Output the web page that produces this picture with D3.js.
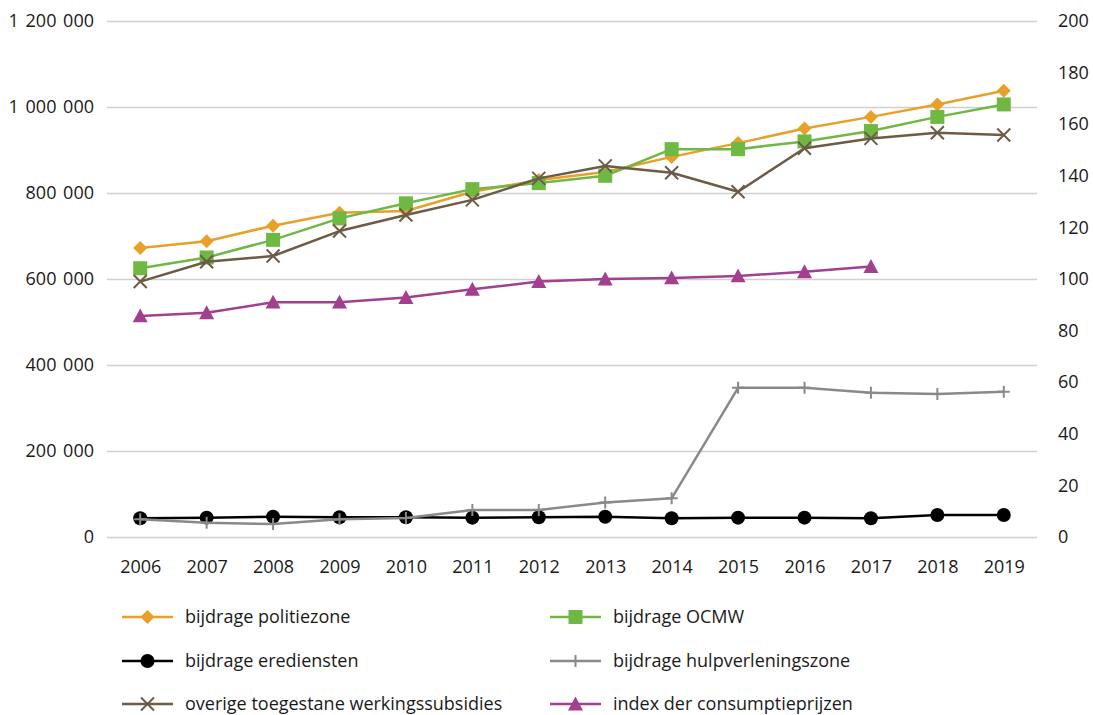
<!DOCTYPE html>
<html>
<head>
<meta charset="utf-8">
<script src="https://cdn.jsdelivr.net/npm/d3@7"></script>
<style>
  html, body { margin: 0; padding: 0; background: #fff; }
  svg { display: block; font-family: "Open Sans", "Noto Sans", sans-serif; }
</style>
</head>
<body>
<svg id="chart" width="1093" height="715"></svg>
<script>
// ---- data ----
const years = [2006, 2007, 2008, 2009, 2010, 2011, 2012, 2013, 2014, 2015, 2016, 2017, 2018, 2019];
const politiezone = [672000, 688000, 724000, 754000, 758000, 803000, 830000, 849000, 884000, 916000, 950000, 977000, 1006000, 1038000];
const ocmw = [625000, 650000, 691000, 741000, 776000, 809000, 823000, 840000, 902000, 902000, 920000, 944000, 977000, 1006000];
const erediensten = [43500, 45000, 47000, 46000, 46000, 45000, 46000, 47000, 43500, 45000, 45000, 43500, 51000, 51000];
const hulpverlening = [41000, 33000, 30000, 41000, 44000, 63000, 63000, 80500, 90000, 347000, 347000, 335500, 332500, 338000];
const overige = [594000, 640000, 653500, 711500, 749000, 784000, 834000, 863000, 847000, 803000, 904000, 927000, 940000, 935000];
const indexCPI = [85.7, 86.9, 91.0, 91.0, 92.8, 96.0, 99.0, 100.0, 100.4, 101.2, 102.8, 104.8, null, null];
const leftTicks = [0, 200000, 400000, 600000, 800000, 1000000, 1200000];
const rightTicks = [0, 20, 40, 60, 80, 100, 120, 140, 160, 180, 200];

const seriesNames = ["bijdrage politiezone", "bijdrage OCMW", "bijdrage erediensten", "bijdrage hulpverleningszone", "overige toegestane werkingssubsidies", "index der consumptieprijzen"];

// ---- layout / styles ----
const series = [
  {name: seriesNames[0], values: politiezone, axis: "L", color: "#E9A02B", marker: "diamond"},
  {name: seriesNames[1], values: ocmw, axis: "L", color: "#6FB843", marker: "square"},
  {name: seriesNames[2], values: erediensten, axis: "L", color: "#000000", marker: "circle"},
  {name: seriesNames[3], values: hulpverlening, axis: "L", color: "#898989", marker: "plus"},
  {name: seriesNames[4], values: overige, axis: "L", color: "#6C5B47", marker: "cross"},
  {name: seriesNames[5], values: indexCPI, axis: "R", color: "#A33F8F", marker: "triangle"}
];

const svg = d3.select("#chart");
const pL = 107, pR = 1037, pT = 21, pB = 537;

const x = d3.scalePoint().domain(years).range([pL, pR]).padding(0.5);
const yL = d3.scaleLinear().domain([0, 1200000]).range([pB, pT]);
const yR = d3.scaleLinear().domain([0, 200]).range([pB, pT]);

const fmt = v => d3.format(",")(v).replace(/,/g, " ");
const fontSize = 18;
const textColor = "#1a1a1a";

// gridlines
const grid = svg.append("g").attr("transform", `translate(${pL},0)`)
  .call(d3.axisLeft(yL).tickValues(leftTicks).tickSize(-(pR - pL)).tickFormat(""));
grid.select(".domain").remove();
grid.selectAll("line").attr("stroke", "#d0d0d0").attr("stroke-width", 1.3);

// left axis
const gL = svg.append("g").attr("transform", `translate(${pL},0)`)
  .call(d3.axisLeft(yL).tickValues(leftTicks).tickSize(0).tickPadding(13).tickFormat(fmt));
gL.select(".domain").remove();
gL.attr("font-family", null).attr("font-size", fontSize);
gL.selectAll("text").attr("fill", textColor).attr("word-spacing", 2);

// right axis
const gR = svg.append("g").attr("transform", `translate(${pR},0)`)
  .call(d3.axisRight(yR).tickValues(rightTicks).tickSize(0).tickPadding(21));
gR.select(".domain").remove();
gR.attr("font-family", null).attr("font-size", fontSize);
gR.selectAll("text").attr("fill", textColor);

// bottom axis
const gB = svg.append("g").attr("transform", `translate(0,${pB})`)
  .call(d3.axisBottom(x).tickSize(0).tickPadding(23).tickFormat(d3.format("d")));
gB.select(".domain").remove();
gB.attr("font-family", null).attr("font-size", fontSize);
gB.selectAll("text").attr("fill", textColor);

// marker drawing
function drawMarker(g, type, color, cx, cy) {
  switch (type) {
    case "diamond": {
      const s = 7;
      g.append("path").attr("d", `M${cx},${cy - s}L${cx + s},${cy}L${cx},${cy + s}L${cx - s},${cy}Z`).attr("fill", color);
      break;
    }
    case "square": {
      const s = 7;
      g.append("rect").attr("x", cx - s).attr("y", cy - s).attr("width", 2 * s).attr("height", 2 * s).attr("fill", color);
      break;
    }
    case "circle":
      g.append("circle").attr("cx", cx).attr("cy", cy).attr("r", 7).attr("fill", color);
      break;
    case "triangle": {
      const s = 7.5;
      g.append("path").attr("d", `M${cx},${cy - s}L${cx + s},${cy + s * 0.85}L${cx - s},${cy + s * 0.85}Z`).attr("fill", color);
      break;
    }
    case "cross": {
      const s = 6.5;
      g.append("path").attr("d", `M${cx - s},${cy - s}L${cx + s},${cy + s}M${cx - s},${cy + s}L${cx + s},${cy - s}`)
        .attr("stroke", color).attr("stroke-width", 2).attr("fill", "none");
      break;
    }
    case "plus": {
      const s = 6;
      g.append("path").attr("d", `M${cx - s},${cy}L${cx + s},${cy}M${cx},${cy - s}L${cx},${cy + s}`)
        .attr("stroke", color).attr("stroke-width", 2).attr("fill", "none");
      break;
    }
  }
}

// series
series.forEach(s => {
  const y = s.axis === "L" ? yL : yR;
  const pts = years.map((yr, i) => ({yr, v: s.values[i]})).filter(d => d.v != null);
  const g = svg.append("g");
  const line = d3.line().x(d => x(d.yr)).y(d => y(d.v));
  g.append("path").datum(pts).attr("d", line).attr("fill", "none")
    .attr("stroke", s.color).attr("stroke-width", 2.5).attr("stroke-linejoin", "round");
  pts.forEach(d => drawMarker(g, s.marker, s.color, x(d.yr), y(d.v)));
});

// legend
const legendCols = [122, 550];
const legendRows = [617, 661, 704];
series.forEach((s, i) => {
  const lx = legendCols[i % 2], ly = legendRows[Math.floor(i / 2)];
  const g = svg.append("g");
  g.append("line").attr("x1", lx).attr("x2", lx + 51).attr("y1", ly).attr("y2", ly)
    .attr("stroke", s.color).attr("stroke-width", 2.5);
  drawMarker(g, s.marker, s.color, lx + 25.5, ly);
  g.append("text").attr("x", lx + 63).attr("y", ly).attr("dy", "0.35em")
    .attr("font-size", fontSize).attr("fill", textColor).text(s.name);
});
</script>
</body>
</html>
